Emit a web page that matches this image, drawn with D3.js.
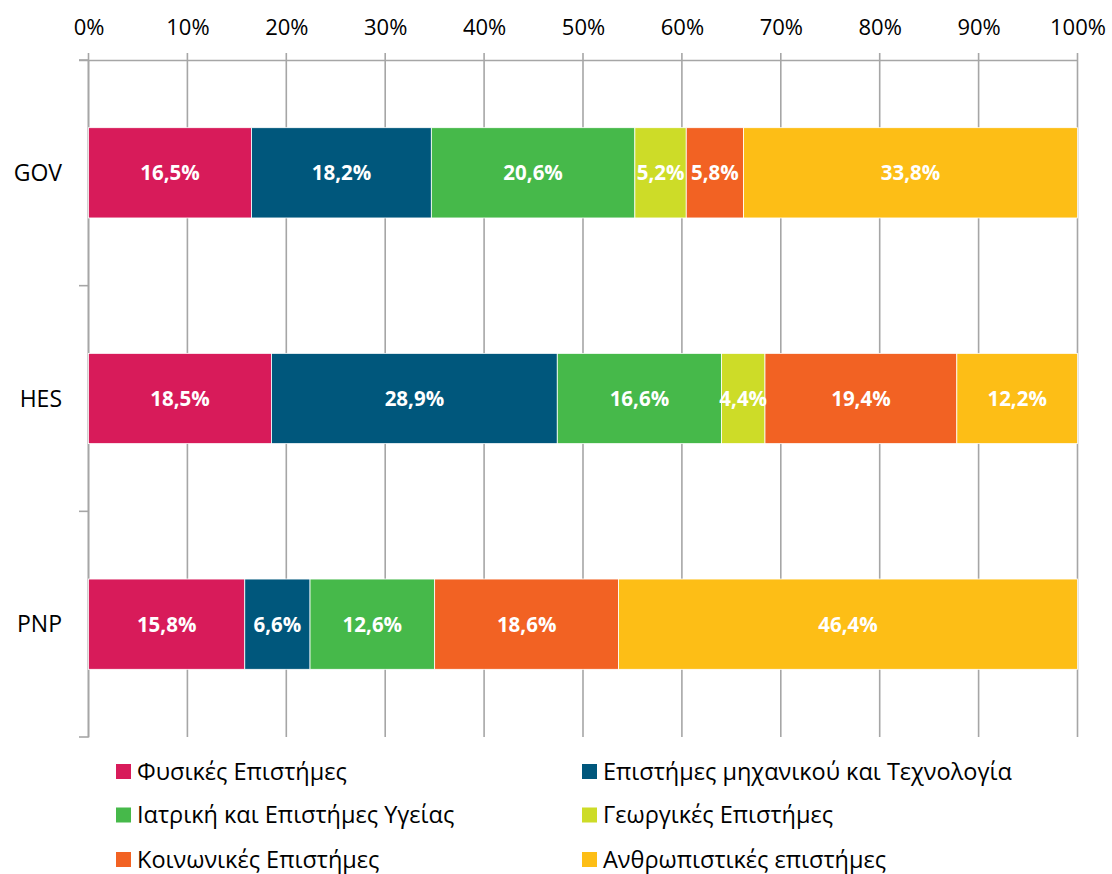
<!DOCTYPE html>
<html><head><meta charset="utf-8">
<script src="https://cdn.jsdelivr.net/npm/d3@7"></script>
<style>html,body{margin:0;padding:0;background:#fff}</style>
</head><body>
<svg id="chart" width="1112" height="874"></svg>
<script>
const sectors = ["GOV", "HES", "PNP"];
const fields = ["Φυσικές Επιστήμες", "Επιστήμες μηχανικού και Τεχνολογία", "Ιατρική και Επιστήμες Υγείας", "Γεωργικές Επιστήμες", "Κοινωνικές Επιστήμες", "Ανθρωπιστικές επιστήμες"];
const govValues = [16.5, 18.2, 20.6, 5.2, 5.8, 33.8];
const hesValues = [18.5, 28.9, 16.6, 4.4, 19.4, 12.2];
const pnpValues = [15.8, 6.6, 12.6, 0, 18.6, 46.4];
const colors = ["#D81B5A", "#00577C", "#46B94A", "#CDDC28", "#F26223", "#FDBE16"];
const tickValues = [0, 0.1, 0.2, 0.3, 0.4, 0.5, 0.6, 0.7, 0.8, 0.9, 1.0];

const seriesBySector = [govValues, hesValues, pnpValues];
const svg = d3.select("#chart");
const FONT = "'Open Sans', 'Noto Sans', sans-serif";
const x = d3.scaleLinear().domain([0, 1]).range([88.5, 1077.5]);
const y = d3.scaleBand().domain(sectors).range([60, 737]).paddingInner(0.6).paddingOuter(0.3);
const grid = "#A6A6A6";

// gridlines
svg.append("g").selectAll("line").data(tickValues).join("line")
  .attr("x1", d => x(d)).attr("x2", d => x(d))
  .attr("y1", 53).attr("y2", 737)
  .attr("stroke", grid).attr("stroke-width", 1.6);
// top axis line
svg.append("line").attr("x1", 79).attr("x2", x(1)).attr("y1", 60.5).attr("y2", 60.5)
  .attr("stroke", grid).attr("stroke-width", 1.6);
// left axis line + category boundary ticks
svg.append("line").attr("x1", x(0)).attr("x2", x(0)).attr("y1", 60).attr("y2", 737.5)
  .attr("stroke", grid).attr("stroke-width", 1.6);
const step = y.step();
const bounds = d3.range(sectors.length + 1).map(i => 60 + i * step);
svg.append("g").selectAll("line").data(bounds).join("line")
  .attr("x1", 79).attr("x2", x(0)).attr("y1", d => d).attr("y2", d => d)
  .attr("stroke", grid).attr("stroke-width", 1.6);

// tick labels (top)
const axis = d3.axisTop(x).tickValues(tickValues).tickFormat(d3.format(".0%")).tickSize(0).tickPadding(0);
const ag = svg.append("g").attr("transform", "translate(0,35)").call(axis);
ag.select(".domain").remove();
ag.selectAll("text").attr("font-family", FONT).attr("font-size", 22).attr("fill", "#000").attr("dy", 0);

// category labels
svg.append("g").selectAll("text").data(sectors).join("text")
  .attr("x", 62).attr("y", d => y(d) + y.bandwidth() / 2)
  .attr("dy", "0.36em").attr("text-anchor", "end")
  .attr("font-family", FONT).attr("font-size", 23).attr("fill", "#000")
  .text(d => d);

// bars
const fmt = v => v.toFixed(1).replace(".", ",") + "%";
sectors.forEach((s, si) => {
  const vals = seriesBySector[si];
  const total = d3.sum(vals);
  let acc = 0;
  const segs = vals.map((v, i) => { const o = {v, i, x0: acc / total, x1: (acc + v) / total}; acc += v; return o; });
  const g = svg.append("g");
  g.selectAll("rect").data(segs.filter(d => d.v > 0)).join("rect")
    .attr("x", d => x(d.x0)).attr("width", d => x(d.x1) - x(d.x0))
    .attr("y", y(s)).attr("height", y.bandwidth())
    .attr("fill", d => colors[d.i]).attr("stroke", "#fff").attr("stroke-width", 0.8);
  g.selectAll("text").data(segs.filter(d => d.v > 0)).join("text")
    .attr("x", d => (x(d.x0) + x(d.x1)) / 2).attr("y", y(s) + y.bandwidth() / 2)
    .attr("dy", "0.36em").attr("text-anchor", "middle")
    .attr("font-family", FONT).attr("font-weight", "bold").attr("font-size", 20.5).attr("fill", "#fff")
    .text(d => fmt(d.v));
});

// legend
const legendCols = [116, 582];
const legendRows = [771.5, 815, 859.5];
const lg = svg.append("g").selectAll("g").data(fields).join("g")
  .attr("transform", (d, i) => `translate(${legendCols[i % 2]},${legendRows[Math.floor(i / 2)]})`);
lg.append("rect").attr("x", 0).attr("y", -7.5).attr("width", 15).attr("height", 15)
  .attr("fill", (d, i) => colors[i]);
lg.append("text").attr("x", 21).attr("y", 0).attr("dy", "0.36em")
  .attr("font-family", FONT).attr("font-size", 23.5).attr("fill", "#000")
  .text(d => d);
</script>
</body></html>
